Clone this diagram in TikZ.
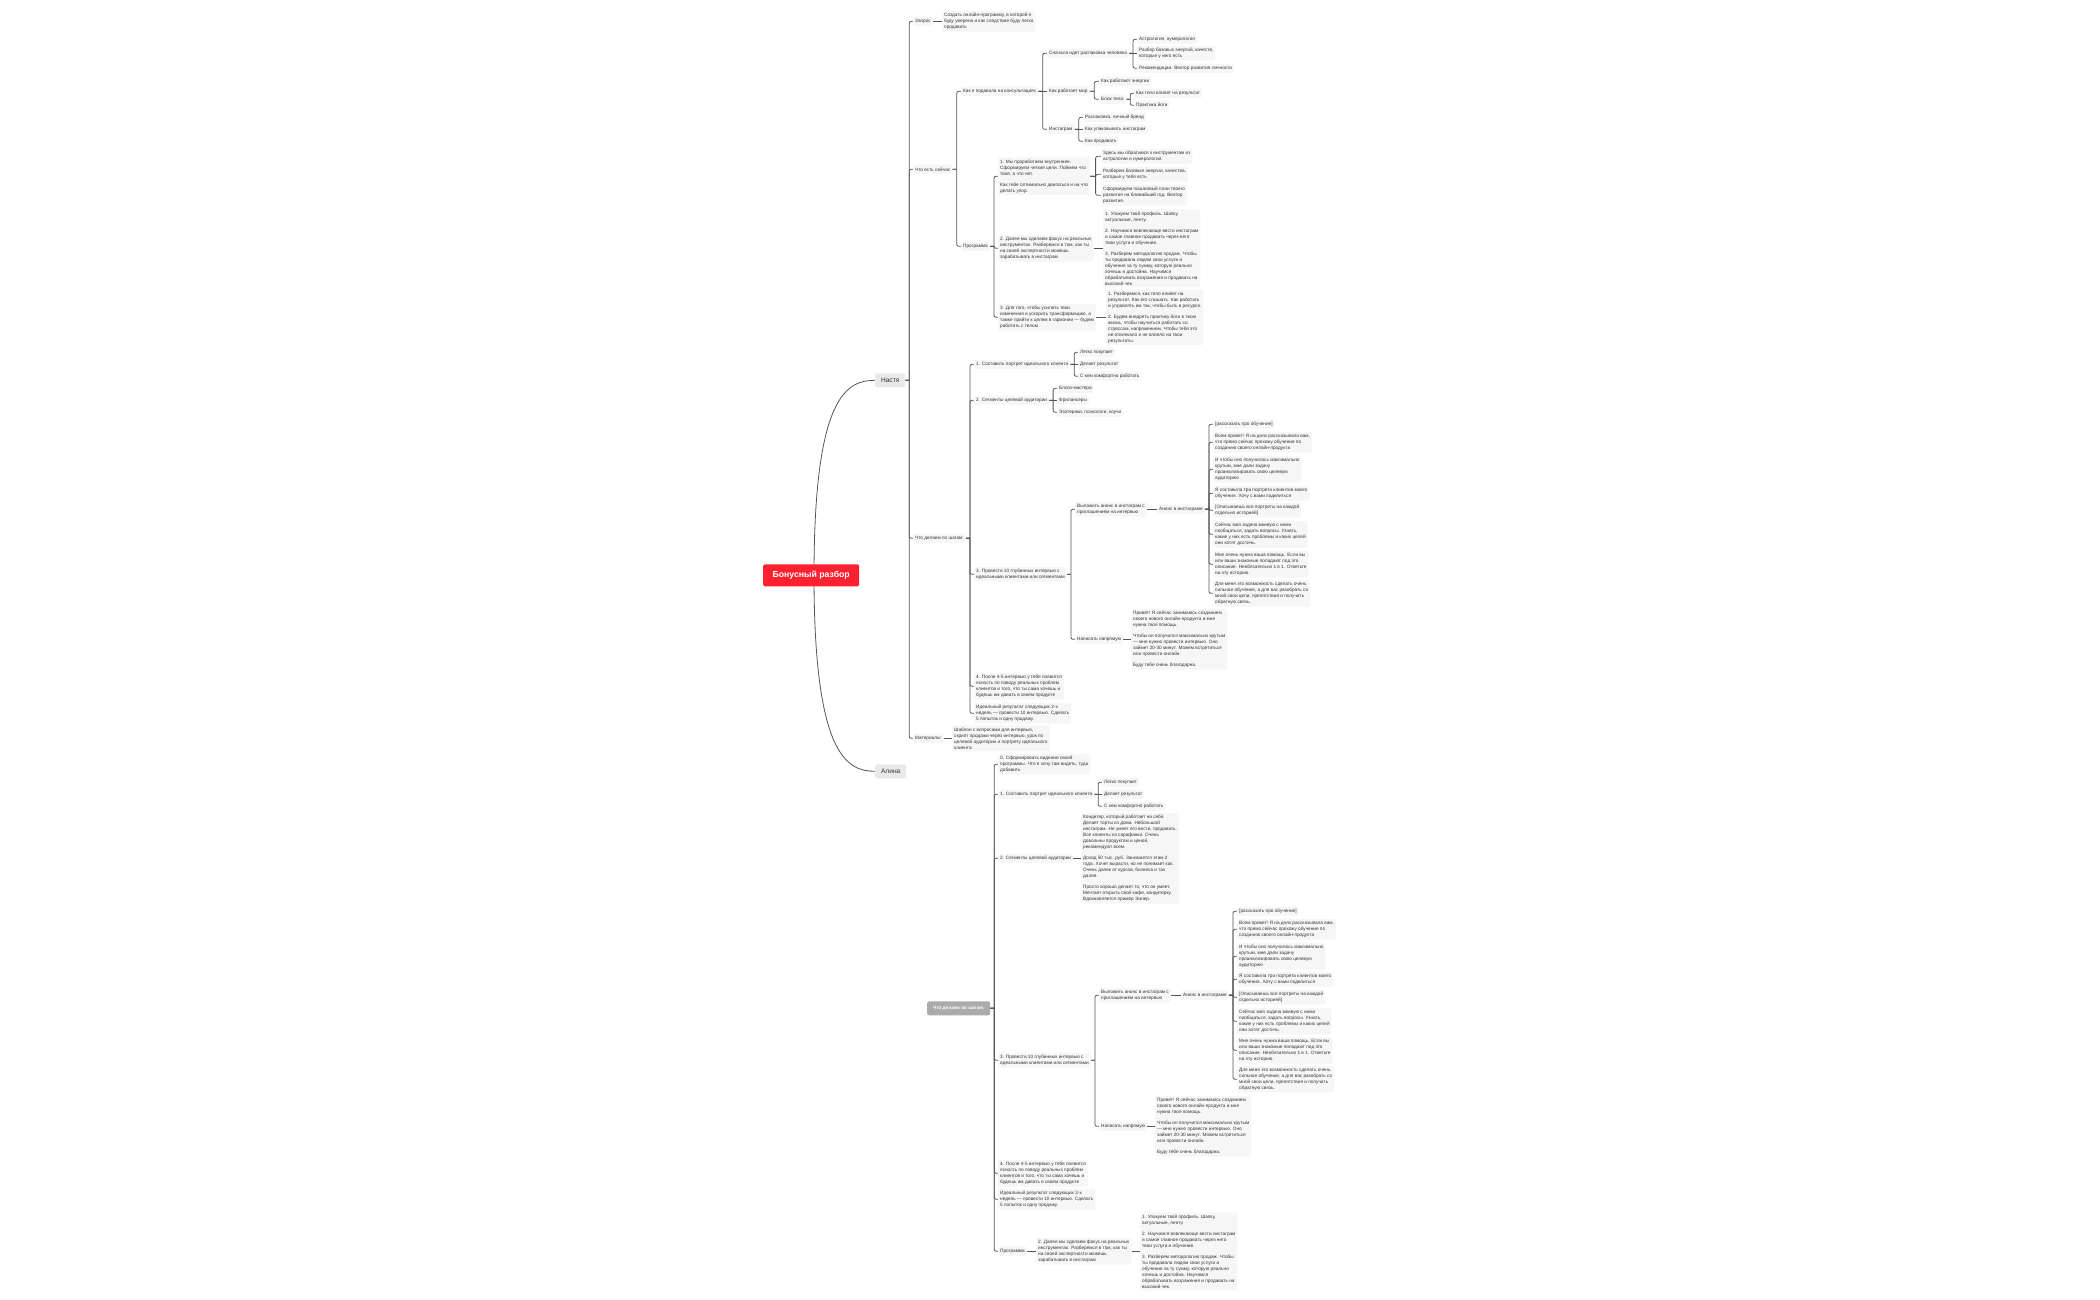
\documentclass[tikz,border=0pt]{standalone}
\usepackage{fontspec}
\setmainfont{Liberation Sans}
\usetikzlibrary{calc,backgrounds}
\definecolor{rootred}{HTML}{FF2130}
\definecolor{topicgray}{HTML}{E9E9E9}
\definecolor{floatgray}{HTML}{ABABAB}
\definecolor{leafgray}{HTML}{F6F6F6}
\definecolor{inkgray}{HTML}{333333}
\definecolor{linkgray}{HTML}{555555}
\tikzset{
  leaf/.style={anchor=west,fill=leafgray,rounded corners=2pt,align=left,inner xsep=2pt,inner ysep=2.2pt,
    minimum height=9.2pt,text=inkgray,font=\fontsize{4.7}{6}\selectfont},
  topic/.style={anchor=west,fill=topicgray,rounded corners=2pt,minimum height=14pt,inner sep=0pt,text=inkgray,
    font=\fontsize{6.6}{8}\selectfont},
  rootbox/.style={anchor=west,fill=rootred,rounded corners=1.5pt,minimum width=96pt,minimum height=22pt,inner sep=0pt,
    text=white,font=\fontsize{8.7}{10}\selectfont\bfseries},
  floatbox/.style={anchor=west,fill=floatgray,rounded corners=2pt,minimum width=63pt,minimum height=14pt,inner sep=0pt,
    text=white,font=\fontsize{4.7}{6}\selectfont\bfseries},
  link/.style={draw=linkgray,line width=0.8pt},
  branch/.style={rounded corners=2pt,to path={-- ($(\tikztostart)!.5!(\tikztostart -| \tikztotarget)$)
    ($(\tikztostart)!.5!(\tikztostart -| \tikztotarget)$) |- (\tikztotarget)}}
}
\newcommand{\gap}{\\[5pt]}
\begin{document}
\begin{tikzpicture}[x=1pt,y=-1pt]
\useasboundingbox (0,-1.3) rectangle (2100,1298.7);
\node[rootbox] (root) at (763,574) {Бонусный разбор};
\coordinate (rootc) at (814,574);
\node[topic,minimum width=30pt] (nastya) at (875,379) {Настя};
\node[topic,minimum width=31pt] (alina) at (875,770) {Алина};
% Настя
\node[leaf] (query) at (913,20) {Запрос};
\node[leaf] (queryt) at (942,20) {Создать онлайн-программу, в которой я\\буду уверена и как следствие буду легко\\продавать};
\node[leaf] (now) at (913,168) {Что есть сейчас};
\node[leaf] (consult) at (961,90) {Как я подавала на консультациях};
\node[leaf] (unpack) at (1047,52) {Сначала идет распаковка человека};
\node[leaf] (astro) at (1137,38) {Астрология, нумерология};
\node[leaf] (energy) at (1137,52) {Разбор базовых энергий, качеств,\\которые у него есть};
\node[leaf] (advice) at (1137,67) {Рекомендации. Вектор развития личности};
\node[leaf] (world) at (1047,90) {Как работает мир};
\node[leaf] (enwork) at (1099,80) {Как работают энергии};
\node[leaf] (body) at (1099,98) {Блок тела:};
\node[leaf] (bodyres) at (1134,92) {Как тело влияет на результат};
\node[leaf] (yoga) at (1134,104) {Практика йоги};
\node[leaf] (insta) at (1047,128) {Инстаграм};
\node[leaf] (brand) at (1083,116) {Распаковка, личный бренд};
\node[leaf] (pack) at (1083,128) {Как упаковывать инстаграм};
\node[leaf] (sell) at (1083,140) {Как продавать};
\node[leaf] (prog) at (961,245) {Программа};
\node[leaf] (pone) at (998,175) {1. Мы проработаем внутреннее.\\Сформируем четкие цели. Поймем что\\твое, а что нет.\gap Как тебе оптимально двигаться и на что\\делать упор.};
\node[leaf] (poa) at (1101,155) {Здесь мы обратимся к инструментам из\\астрологии и нумерологии.};
\node[leaf] (pob) at (1101,173) {Разберем базовые энергии, качества,\\которые у тебя есть};
\node[leaf] (poc) at (1101,194) {Сформируем пошаговый план твоего\\развития на ближайший год. Вектор\\развития.};
\node[leaf] (ptwo) at (998,247) {2. Далее мы сделаем фокус на реальных\\инструментах. Разберемся в том, как ты\\на своей экспертности можешь\\зарабатывать в инстаграм};
\node[leaf] (ptwot) at (1103,247) {1. Упакуем твой профиль. Шапку,\\актуальные, ленту.\gap 2. Научимся вовлекающе вести инстаграм\\и самое главное продавать через него\\твои услуги и обучение.\gap 3. Разберем методологию продаж. Чтобы\\ты продавала людям свои услуги и\\обучение за ту сумму, которую реально\\хочешь и достойна. Научимся\\обрабатывать возражения и продавать на\\высокий чек.};
\node[leaf] (pthree) at (998,316) {3. Для того, чтобы усилить твои\\изменения и ускорить трансформацию, а\\также прийти к целям в гармонии — будем\\работать с телом};
\node[leaf] (pthreet) at (1106,316) {1. Разберемся, как тело влияет на\\результат. Как его слышать. Как работать\\и управлять им так, чтобы быть в ресурсе.\gap 2. Будем внедрять практику йоги в твою\\жизнь, чтобы научиться работать со\\стрессом, напряжением. Чтобы тебя это\\не отвлекало и не влияло на твои\\результаты.};
\node[leaf] (steps) at (913,537) {Что делаем по шагам:};
\node[leaf] (sone) at (974,363) {1. Составить портрет идеального клиента};
\node[leaf] (easy) at (1078,351) {Легко покупает};
\node[leaf] (result) at (1078,363) {Делает результат};
\node[leaf] (comfy) at (1078,375) {С кем комфортно работать};
\node[leaf] (stwo) at (974,399) {2. Сегменты целевой аудитории};
\node[leaf] (blogs) at (1057,387) {Блоги-мастера};
\node[leaf] (free) at (1057,399) {Фрилансеры};
\node[leaf] (ezo) at (1057,411) {Эзотерики, психологи, коучи};
\node[leaf] (sthree) at (974,573) {3. Провести 10 глубинных интервью с\\идеальными клиентами или сегментами};
\node[leaf] (post) at (1075,508) {Выложить анонс в инстаграм с\\приглашением на интервью};
\node[leaf] (ann) at (1157,508) {Анонс в инстаграме};
\node[leaf] (anna) at (1213,423) {[рассказать про обучение]};
\node[leaf] (annb) at (1213,441) {Всем привет! Я на днях рассказывала вам,\\что прямо сейчас прохожу обучение по\\созданию своего онлайн-продукта};
\node[leaf] (annc) at (1213,468) {И чтобы оно получилось максимально\\крутым, мне дали задачу\\проанализировать свою целевую\\аудиторию};
\node[leaf] (annd) at (1213,492) {Я составила три портрета клиентов моего\\обучения. Хочу с вами поделиться};
\node[leaf] (anne) at (1213,509) {[Описываешь все портреты на каждой\\отдельно историей]};
\node[leaf] (annf) at (1213,533) {Сейчас моя задача вживую с ними\\пообщаться, задать вопросы. Узнать,\\какие у них есть проблемы и каких целей\\они хотят достичь.};
\node[leaf] (anng) at (1213,563) {Мне очень нужна ваша помощь. Если вы\\или ваши знакомые попадают под это\\описание. Необязательно 1 в 1. Ответьте\\на эту историю.};
\node[leaf] (annh) at (1213,592) {Для меня это возможность сделать очень\\сильное обучение, а для вас разобрать со\\мной свои цели, препятствия и получить\\обратную связь.};
\node[leaf] (direct) at (1075,638) {Написать напрямую};
\node[leaf] (directt) at (1131,638) {Привет! Я сейчас занимаюсь созданием\\своего нового онлайн-продукта и мне\\нужна твоя помощь.\gap Чтобы он получился максимально крутым\\— мне нужно провести интервью. Оно\\займет 20-30 минут. Можем встретиться\\или провести онлайн.\gap Буду тебе очень благодарна.};
\node[leaf] (sfour) at (974,685) {4. После 4-5 интервью у тебя появится\\ясность по поводу реальных проблем\\клиентов и того, что ты сама хочешь и\\будешь им давать в своем продукте};
\node[leaf] (ideal) at (974,712) {Идеальный результат следующих 2-х\\недель — провести 10 интервью. Сделать\\5 попыток и одну продажу.};
\node[leaf] (mat) at (913,737) {Материалы:};
\node[leaf] (matt) at (952,737) {Шаблон с вопросами для интервью,\\скрипт продажи через интервью, урок по\\целевой аудитории и портрету идеального\\клиента};
% Алина
\node[floatbox] (fsteps) at (927,1007) {Что делаем по шагам:};
\node[leaf] (azero) at (998,763) {0. Сформировать видение своей\\программы. Что я хочу там видеть, туда\\добавить};
\node[leaf] (aone) at (998,793) {1. Составить портрет идеального клиента};
\node[leaf] (aeasy) at (1102,781) {Легко покупает};
\node[leaf] (aresult) at (1102,793) {Делает результат};
\node[leaf] (acomfy) at (1102,805) {С кем комфортно работать};
\node[leaf] (atwo) at (998,857) {2. Сегменты целевой аудитории};
\node[leaf] (atwot) at (1081,857) {Кондитер, который работает на себя.\\Делает торты из дома. Небольшой\\инстаграм. Не умеет его вести, продавать.\\Все клиенты из сарафанки. Очень\\довольны продуктом и ценой,\\рекомендуют всем.\gap Доход 50 тыс. руб. Занимается этим 2\\года. Хочет вырасти, но не понимает как.\\Очень далек от курсов, бизнеса и так\\далее.\gap Просто хорошо делает то, что он умеет.\\Мечтает открыть свой кафе, кондитерку.\\Вдохновляется пример Энлер.};
\node[leaf] (athree) at (998,1059) {3. Провести 10 глубинных интервью с\\идеальными клиентами или сегментами};
\node[leaf] (apost) at (1099,994) {Выложить анонс в инстаграм с\\приглашением на интервью};
\node[leaf] (aann) at (1181,994) {Анонс в инстаграме};
\node[leaf] (aanna) at (1237,910) {[рассказать про обучение]};
\node[leaf] (aannb) at (1237,928) {Всем привет! Я на днях рассказывала вам,\\что прямо сейчас прохожу обучение по\\созданию своего онлайн-продукта};
\node[leaf] (aannc) at (1237,955) {И чтобы оно получилось максимально\\крутым, мне дали задачу\\проанализировать свою целевую\\аудиторию};
\node[leaf] (aannd) at (1237,978) {Я составила три портрета клиентов моего\\обучения. Хочу с вами поделиться};
\node[leaf] (aanne) at (1237,996) {[Описываешь все портреты на каждой\\отдельно историей]};
\node[leaf] (aannf) at (1237,1020) {Сейчас моя задача вживую с ними\\пообщаться, задать вопросы. Узнать,\\какие у них есть проблемы и каких целей\\они хотят достичь.};
\node[leaf] (aanng) at (1237,1049) {Мне очень нужна ваша помощь. Если вы\\или ваши знакомые попадают под это\\описание. Необязательно 1 в 1. Ответьте\\на эту историю.};
\node[leaf] (aannh) at (1237,1078) {Для меня это возможность сделать очень\\сильное обучение, а для вас разобрать со\\мной свои цели, препятствия и получить\\обратную связь.};
\node[leaf] (adirect) at (1099,1125) {Написать напрямую};
\node[leaf] (adirectt) at (1155,1125) {Привет! Я сейчас занимаюсь созданием\\своего нового онлайн-продукта и мне\\нужна твоя помощь.\gap Чтобы он получился максимально крутым\\— мне нужно провести интервью. Оно\\займет 20-30 минут. Можем встретиться\\или провести онлайн.\gap Буду тебе очень благодарна.};
\node[leaf] (afour) at (998,1172) {4. После 4-5 интервью у тебя появится\\ясность по поводу реальных проблем\\клиентов и того, что ты сама хочешь и\\будешь им давать в своем продукте};
\node[leaf] (aideal) at (998,1198) {Идеальный результат следующих 2-х\\недель — провести 10 интервью. Сделать\\5 попыток и одну продажу.};
\node[leaf] (aprog) at (998,1250) {Программа};
\node[leaf] (aptwo) at (1036,1250) {2. Далее мы сделаем фокус на реальных\\инструментах. Разберемся в том, как ты\\на своей экспертности можешь\\зарабатывать в инстаграм};
\node[leaf] (aptwot) at (1140,1250) {1. Упакуем твой профиль. Шапку,\\актуальные, ленту.\gap 2. Научимся вовлекающе вести инстаграм\\и самое главное продавать через него\\твои услуги и обучение.\gap 3. Разберем методологию продаж. Чтобы\\ты продавала людям свои услуги и\\обучение за ту сумму, которую реально\\хочешь и достойна. Научимся\\обрабатывать возражения и продавать на\\высокий чек.};
\begin{scope}[on background layer]
\draw[link] (rootc) .. controls +(0,-180) and +(-28,0) .. (nastya.west);
\draw[link] (rootc) .. controls +(0,180) and +(-28,0) .. (alina.west);
% stubs with one child in line
\foreach \a/\b in {
  query/queryt,mat/matt,consult/world,unpack/energy,insta/pack,ptwo/ptwot,pthree/pthreet,
  sone/result,stwo/free,post/ann,direct/directt,aone/aresult,atwo/atwot,apost/aann,
  adirect/adirectt,aprog/aptwo,aptwo/aptwot}
  \draw[link] (\a.east) -- (\b.west);
% forks
\foreach \a/\b in {
  nastya/query,nastya/now,nastya/steps,nastya/mat,
  now/consult,now/prog,consult/unpack,consult/insta,
  unpack/astro,unpack/advice,world/enwork,world/body,body/bodyres,body/yoga,
  insta/brand,insta/sell,prog/pone,prog/ptwo,prog/pthree,
  pone/poa,pone/pob,pone/poc,
  steps/sone,steps/stwo,steps/sthree,steps/sfour,steps/ideal,
  sone/easy,sone/comfy,stwo/blogs,stwo/ezo,
  sthree/post,sthree/direct,
  ann/anna,ann/annb,ann/annc,ann/annd,ann/anne,ann/annf,ann/anng,ann/annh,
  fsteps/azero,fsteps/aone,fsteps/atwo,fsteps/athree,fsteps/afour,fsteps/aideal,fsteps/aprog,
  aone/aeasy,aone/acomfy,athree/apost,athree/adirect,
  aann/aanna,aann/aannb,aann/aannc,aann/aannd,aann/aanne,aann/aannf,aann/aanng,aann/aannh}
  \draw[link,branch] (\a.east) to (\b.west);
\end{scope}
\end{tikzpicture}
\end{document}
